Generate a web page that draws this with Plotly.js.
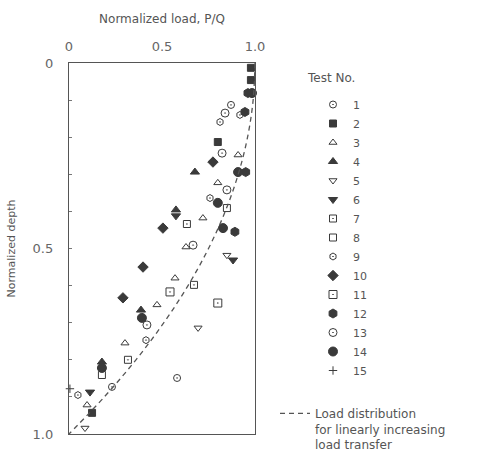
<!DOCTYPE html>
<html>
<head>
<meta charset="utf-8">
<script src="https://cdn.plot.ly/plotly-3.0.1.min.js"></script>
<style>html,body{margin:0;padding:0;background:#fff;}#chart{width:497px;height:464px;}</style>
</head>
<body>
<div id="chart"></div>
<script>
// ---- Data (x = normalized load P/Q, y = normalized depth) ----
const testNames = ['1','2','3','4','5','6','7','8','9','10','11','12','13','14','15'];

const loadT1  = [0.871, 0.581, 0.231];
const depthT1 = [0.113, 0.849, 0.873];
const loadT2  = [0.978, 0.978, 0.80, 0.124];
const depthT2 = [0.013, 0.046, 0.213, 0.943];
const loadT3  = [0.909, 0.80, 0.72, 0.629, 0.57, 0.473, 0.301, 0.097];
const depthT3 = [0.248, 0.323, 0.418, 0.496, 0.58, 0.652, 0.755, 0.922];
const loadT4  = [0.677, 0.575, 0.387, 0.177];
const depthT4 = [0.294, 0.396, 0.666, 0.806];
const loadT5  = [0.849, 0.694, 0.086];
const depthT5 = [0.518, 0.714, 0.984];
const loadT6  = [0.575, 0.882, 0.113];
const depthT6 = [0.412, 0.531, 0.887];
const loadT7  = [0.634, 0.672, 0.317];
const depthT7 = [0.434, 0.598, 0.80];
const loadT8  = [0.849, 0.177];
const depthT8 = [0.391, 0.841];
const loadT9  = [0.812, 0.919, 0.758, 0.414, 0.048];
const depthT9 = [0.159, 0.140, 0.364, 0.747, 0.895];
const loadT10  = [0.774, 0.505, 0.398, 0.29];
const depthT10 = [0.267, 0.445, 0.55, 0.633];
const loadT11  = [0.80, 0.543];
const depthT11 = [0.647, 0.617];
const loadT12  = [0.962, 0.946, 0.95, 0.892];
const depthT12 = [0.081, 0.132, 0.294, 0.455];
const loadT13  = [0.839, 0.823, 0.849, 0.667, 0.419];
const depthT13 = [0.135, 0.243, 0.342, 0.491, 0.706];
const loadT14  = [0.984, 0.909, 0.80, 0.828, 0.392, 0.177];
const depthT14 = [0.081, 0.294, 0.377, 0.445, 0.687, 0.822];
const loadT15  = [0.005];
const depthT15 = [0.878];

// dashed curve: load distribution for linearly increasing load transfer
const curveDepth = [0.0, 0.1, 0.2, 0.3, 0.4, 0.5, 0.6, 0.7, 0.8, 0.9, 1.0];
const curveLoad  = [1.0, 0.99, 0.96, 0.91, 0.84, 0.75, 0.64, 0.51, 0.36, 0.19, 0.0];

const xTickVals = [0, 0.5, 1];
const xTickText = ['0', '0.5', '1.0'];
const yTickVals = [0, 0.5, 1];
const yTickText = ['0', '0.5', '1.0'];

// ---- styling ----
const loads  = [loadT1,loadT2,loadT3,loadT4,loadT5,loadT6,loadT7,loadT8,loadT9,loadT10,loadT11,loadT12,loadT13,loadT14,loadT15];
const depths = [depthT1,depthT2,depthT3,depthT4,depthT5,depthT6,depthT7,depthT8,depthT9,depthT10,depthT11,depthT12,depthT13,depthT14,depthT15];
const symbols = ['circle-open-dot','square','triangle-up-open','triangle-up','triangle-down-open','triangle-down',
  'square-open-dot','square-open','hexagon-open-dot','diamond','square-open-dot','hexagon','circle-open-dot','circle','cross-thin-open'];
const sizes = [7,7,7,8,7,8,7,7,7,8,8,9,8,9,6];
const ink = '#3a3a3a';
const fontFam = 'DejaVu Sans, sans-serif';

const traces = testNames.map((name, i) => ({
  type: 'scatter', mode: 'markers', name: name,
  x: loads[i], y: depths[i],
  marker: {symbol: symbols[i], size: sizes[i], color: ink, line: {color: ink, width: 1}},
  legend: 'legend', cliponaxis: false
}));

traces.push({
  type: 'scatter', mode: 'lines',
  name: 'Load distribution<br>for linearly increasing<br>load transfer',
  x: curveLoad, y: curveDepth, line: {shape: 'spline', dash: '5px,4px', color: '#555', width: 1.3},
  legend: 'legend2'
});

const layout = {
  width: 497, height: 464,
  margin: {l: 69, r: 242, t: 63, b: 30},
  paper_bgcolor: '#ffffff', plot_bgcolor: '#ffffff',
  font: {family: fontFam, size: 12, color: '#555'},
  showlegend: true,
  xaxis: {
    side: 'top', range: [0, 1], tickvals: xTickVals, ticktext: xTickText,
    showgrid: false, zeroline: false, showline: true, mirror: true, linecolor: '#555', linewidth: 1.2,
    ticks: '', ticklabelstandoff: 6, tickfont: {size: 13, color: '#666'},
    title: {text: 'Normalized load, P/Q', font: {size: 12, color: '#555'}, standoff: 12}
  },
  yaxis: {
    range: [1, 0], tickvals: yTickVals, ticktext: yTickText,
    showgrid: false, zeroline: false, showline: true, mirror: true, linecolor: '#555', linewidth: 1.2,
    ticks: 'inside', ticklen: 3, tickcolor: '#777', ticklabelstandoff: 12, tickfont: {size: 13, color: '#666'},
    minor: {tickvals: [0.1,0.2,0.3,0.4,0.6,0.7,0.8,0.9], ticks: 'inside', ticklen: 3, tickcolor: '#777'},
    title: {text: 'Normalized depth', font: {size: 11, color: '#555'}, standoff: 14}
  },
  legend: {
    xref: 'container', yref: 'container', x: 313/497, y: 1 - 90/464, xanchor: 'left', yanchor: 'top',
    bgcolor: 'rgba(0,0,0,0)', font: {size: 11, color: '#555'}, tracegroupgap: 0, itemclick: false,
    maxheight: 330
  },
  legend2: {
    xref: 'container', yref: 'container', x: 275/497, y: 1 - 399/464, xanchor: 'left', yanchor: 'top',
    bgcolor: 'rgba(0,0,0,0)', font: {size: 12, color: '#555'}, valign: 'top', itemclick: false
  },
  annotations: [
    {xref: 'paper', yref: 'paper', x: (305-69)/186, y: 1 - (78-63)/371, xanchor: 'left', yanchor: 'middle',
     text: 'Test No.', showarrow: false, font: {size: 12, color: '#555'}}
  ]
};

Plotly.newPlot('chart', traces, layout, {displayModeBar: false, staticPlot: true});
</script>
</body>
</html>
